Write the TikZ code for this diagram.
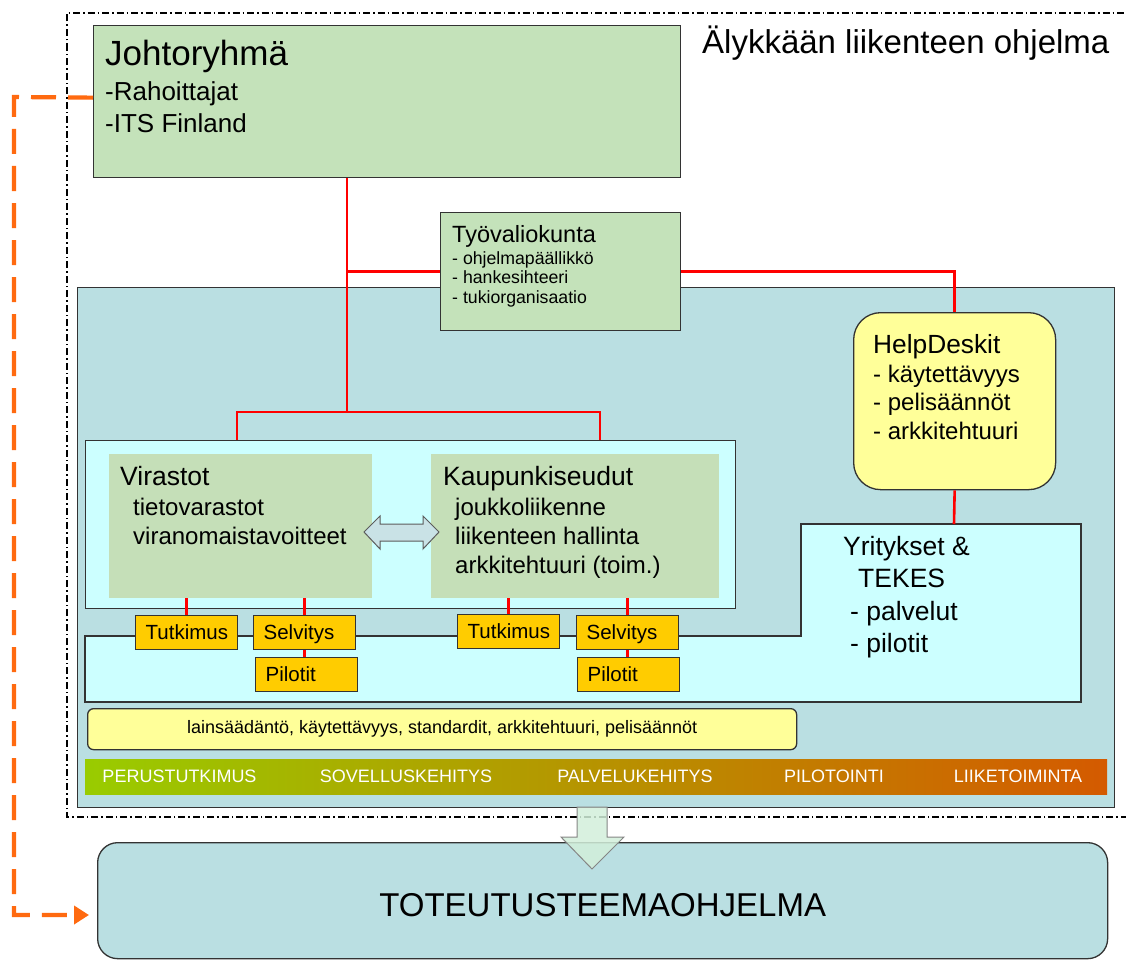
\documentclass[tikz,border=0pt]{standalone}
\usepackage{fontspec}
\setmainfont{Liberation Sans}
\usepackage{xcolor}
\usepackage{tikz}
\usetikzlibrary{arrows.meta, positioning, calc}

\definecolor{tealbg}{HTML}{BADFE2}
\definecolor{cyanbg}{HTML}{CCFFFF}
\definecolor{greenbg}{HTML}{C4E2BA}
\definecolor{sagebg}{HTML}{C5DFB8}
\definecolor{yellowbg}{HTML}{FFFF99}
\definecolor{amber}{HTML}{FFCC00}
\definecolor{edge}{HTML}{333333}
\definecolor{linkred}{HTML}{FF0000}
\definecolor{fborange}{HTML}{FF6A10}
\definecolor{phaseA}{HTML}{99CC00}
\definecolor{phaseB}{HTML}{B4A600}
\definecolor{phaseC}{HTML}{D45A00}
\definecolor{arrowgreen}{HTML}{D2EFDA}
\definecolor{arrowblue}{HTML}{C9E2E6}

\newcommand{\fsz}[2]{\fontsize{#1}{#2}\selectfont}

\begin{document}
\begin{tikzpicture}[
  x=1pt, y=-1pt,
  box/.style={draw=edge, line width=1.3pt, inner sep=0pt, anchor=north west},
  panel/.style={box, fill=tealbg},
  gbox/.style={box, fill=greenbg},
  cbox/.style={box, fill=cyanbg},
  ybox/.style={box, fill=yellowbg},
  sage/.style={inner sep=0pt, anchor=north west, fill=sagebg},
  obox/.style={box, fill=amber, minimum height=34pt, text width=82pt,
    inner xsep=10pt, align=left, text height=16pt, text depth=2pt,
    font=\fsz{20.5}{24}},
  txt/.style={inner sep=0pt, align=left, anchor=north west},
  head/.style={inner sep=0pt, anchor=base west},
  phase/.style={inner sep=0pt, text=white, font=\fsz{18}{22}},
  redline/.style={draw=linkred, line width=2.6pt},
  fback/.style={draw=fborange, line width=4.2pt, dash pattern=on 25pt off 12pt,
    -{Triangle[length=15pt, width=18pt]}},
  frame/.style={draw=black, line width=1.3pt,
    dash pattern=on 7pt off 3pt on 1.5pt off 3pt}
]
\useasboundingbox (0,0) rectangle (1126,961);

% programme frame
\draw[frame] (1200,817) -- (67,817) -- (67,13) -- (1200,13);

\node[gbox, minimum width=587pt, minimum height=152pt] (joh) at (93,25) {};
\node[head, font=\fsz{35}{42}] (johT) at (105,65) {Johtoryhmä};
\node[txt, font=\fsz{26}{32}] (johL) at (105,81.4) {-Rahoittajat\\-ITS Finland};
\node[head, font=\fsz{33}{40}] (title) at (702,53) {Älykkään liikenteen ohjelma};

\node[panel, minimum width=1037pt, minimum height=520pt] (main) at (77,287) {};

\node[gbox, minimum width=240pt, minimum height=118pt] (tyo) at (440,212) {};
\node[head, font=\fsz{23.5}{28}] (tyoT) at (452,242) {Työvaliokunta};
\node[txt, font=\fsz{17.7}{19.5}] (tyoL) at (452,251.3)
  {- ohjelmapäällikkö\\- hankesihteeri\\- tukiorganisaatio};

\node[ybox, rounded corners=27pt, minimum width=202pt, minimum height=177pt] (help) at (853,312) {};
\node[head, font=\fsz{26.3}{32}] (helpT) at (873,353) {HelpDeskit};
\node[txt, font=\fsz{24}{28.5}] (helpL) at (873,364.8)
  {- käytettävyys\\- pelisäännöt\\- arkkitehtuuri};

\node[cbox, minimum width=650pt, minimum height=168pt] (agency) at (85,440) {};
\node[sage, minimum width=263pt, minimum height=144pt] (vir) at (109,454) {};
\node[sage, minimum width=288pt, minimum height=144pt] (kau) at (431,454) {};
\node[head, font=\fsz{26.5}{32}] (virT) at (120,485) {Virastot};
\node[txt, font=\fsz{24}{29}] (virL) at (133,497.8) {tietovarastot\\viranomaistavoitteet};
\node[head, font=\fsz{26.5}{32}] (kauT) at (443,485) {Kaupunkiseudut};
\node[txt, font=\fsz{24}{29}] (kauL) at (455,497.8)
  {joukkoliikenne\\liikenteen hallinta\\arkkitehtuuri (toim.)};

% two-way exchange arrow
\draw[draw=edge!80, line width=1pt, fill=arrowblue]
  (364,532) -- (380,516) -- (380,524) -- (423,524) -- (423,516) -- (439,532)
  -- (423,549) -- (423,541) -- (380,541) -- (380,549) -- cycle;

% companies area
\draw[draw=edge, line width=1.3pt, fill=cyanbg]
  (85,636) -- (801,636) -- (801,524) -- (1081,524) -- (1081,702) -- (85,702) -- cycle;
\coordinate (yrtop) at (954,524);
\node[txt, font=\fsz{26.5}{32.3}] (yrit) at (843,536)
  {Yritykset \&\\\hspace*{15pt}TEKES\\\hspace*{7pt}- palvelut\\\hspace*{7pt}- pilotit};

\node[obox] (tut1) at (135,615) {Tutkimus};
\node[obox] (sel1) at (253,615) {Selvitys};
\node[obox] (pil1) at (255,657) {Pilotit};
\node[obox] (tut2) at (457,614) {Tutkimus};
\node[obox] (sel2) at (576,615) {Selvitys};
\node[obox] (pil2) at (577,657) {Pilotit};

\node[ybox, rounded corners=6pt, minimum width=709pt, minimum height=41pt,
  font=\fsz{18}{22}] (rules) at (87,708)
  {lainsäädäntö, käytettävyys, standardit, arkkitehtuuri, pelisäännöt};

\shade[left color=phaseA, middle color=phaseB, right color=phaseC]
  (85,759) rectangle (1107,794);
\foreach \x/\lbl/\nm in {179.5/PERUSTUTKIMUS/perus, 406/SOVELLUSKEHITYS/sovel,
  635/PALVELUKEHITYS/palve, 834/PILOTOINTI/pilot, 1018/LIIKETOIMINTA/liike}
  \node[phase] (\nm) at (\x,776.5) {\lbl};

\node[panel, rounded corners=20pt, minimum width=1010pt, minimum height=116pt,
  text height=32pt, font=\fsz{33}{40}] (tot) at (97,842) {TOTEUTUSTEEMAOHJELMA};

% hand-over arrow
\draw[draw=edge!60, line width=1pt, fill=arrowgreen, fill opacity=0.85]
  (577,807) -- (607,807) -- (607,837) -- (624,837) -- (592,869)
  -- (561,837) -- (577,837) -- cycle;

% organisation links
\coordinate (fork) at (347,412);
\coordinate (forkL) at (237,412);
\coordinate (forkR) at (600,412);
\draw[redline] (joh.south -| fork) -- (fork);
\draw[redline] (tyo.west -| fork) -- (tyo.west);
\draw[redline] (tyo.east) -| (help.north);
\draw[redline] (help.south) -- (yrtop);
\draw[redline] (forkL |- agency.north) -- (forkL) -- (forkR) -- (forkR |- agency.north);
\draw[redline] (tut1.north |- vir.south) -- (tut1.north);
\draw[redline] (sel1.north |- vir.south) -- (sel1.north);
\draw[redline] (sel1.south) -- (sel1.south |- pil1.north);
\draw[redline] (tut2.north |- kau.south) -- (tut2.north);
\draw[redline] (sel2.north |- kau.south) -- (sel2.north);
\draw[redline] (sel2.south) -- (sel2.south |- pil2.north);

% feedback to the implementation programme
\coordinate (fbtop) at (14,97);
\coordinate (fbbot) at (14,915);
\coordinate (fbend) at (89,915);
\draw[fback] ([yshift=4pt]joh.west) -- (fbtop) -- (fbbot) -- (fbend);
\end{tikzpicture}
\end{document}
